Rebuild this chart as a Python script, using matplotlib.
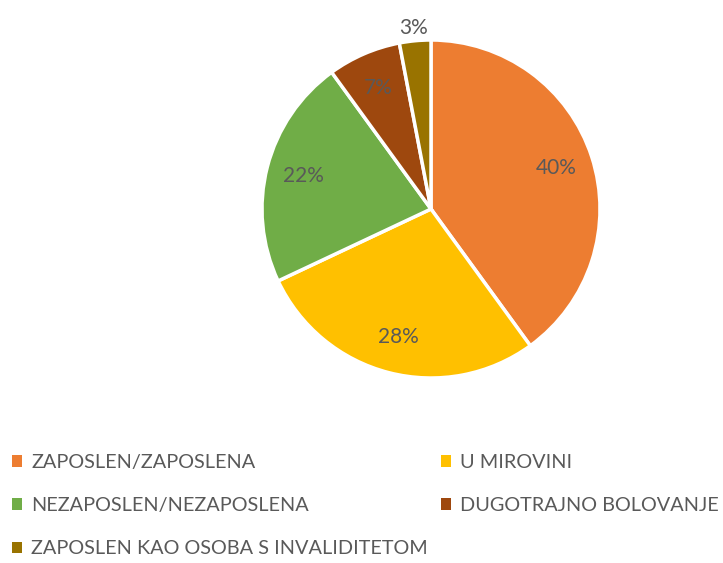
import matplotlib.pyplot as plt
from matplotlib.patches import Patch

labels = ["ZAPOSLEN/ZAPOSLENA", "U MIROVINI", "NEZAPOSLEN/NEZAPOSLENA",
          "DUGOTRAJNO BOLOVANJE", "ZAPOSLEN KAO OSOBA S INVALIDITETOM"]
shares = [40, 28, 22, 7, 3]
colors = ["#ED7D31", "#FFC000", "#70AD47", "#9E480E", "#997300"]

plt.rcParams['font.family'] = ['Lato', 'DejaVu Sans']
text_color = "#595959"

fig = plt.figure(figsize=(7.23, 5.63), dpi=100)
W, H = 723, 563
cx, cy, r = 431, 209, 169
ax = fig.add_axes([(cx - r) / W, (H - cy - r) / H, 2 * r / W, 2 * r / H])

wedges, texts, autotexts = ax.pie(
    shares, colors=colors, startangle=90, counterclock=False,
    autopct="%d%%", pctdistance=0.78, radius=1,
    wedgeprops=dict(edgecolor="white", linewidth=2.5),
    textprops=dict(color=text_color, fontsize=15))
# smallest slice label sits outside the pie
x3, y3 = autotexts[4].get_position()
autotexts[4].set_position((x3 * 1.38, y3 * 1.38))
ax.set_xlim(-1, 1)
ax.set_ylim(-1, 1)
ax.set_aspect("equal")
ax.axis("off")

order = [0, 2, 4, 1, 3]
handles = [Patch(facecolor=colors[i], edgecolor="none") for i in order]
leg = fig.legend(handles, [labels[i] for i in order], ncol=2,
                 loc="upper left", bbox_to_anchor=(0.006, 1 - 446 / H),
                 frameon=False, fontsize=14.3, labelcolor=text_color,
                 handlelength=0.5, handleheight=0.5, handletextpad=0.45,
                 labelspacing=1.32, columnspacing=0.65, borderaxespad=0)

fig.savefig("out.png", dpi=100)
